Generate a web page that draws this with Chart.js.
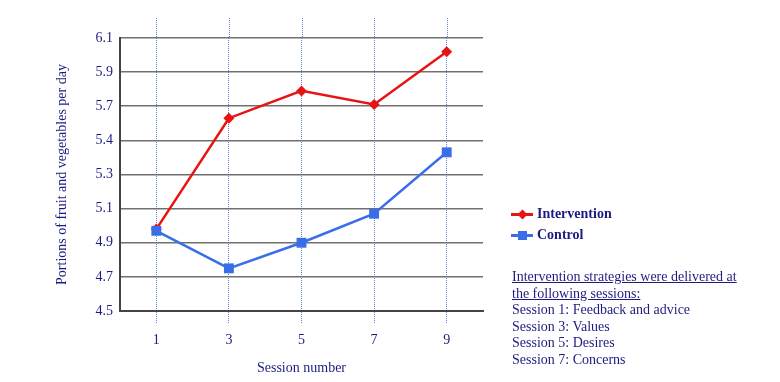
<!DOCTYPE html>
<html>
<head>
<meta charset="utf-8">
<script src="https://cdn.jsdelivr.net/npm/chart.js@4/dist/chart.umd.min.js"></script>
<style>
body { margin: 0; background: #fff; }
#caja { position: relative; width: 780px; height: 382px; }
#grafica { position: absolute; left: 0; top: 0; }
.txt { position: absolute; font-family: "Liberation Serif", "Times New Roman", serif; font-size: 14px; color: #1c1c80; line-height: 16.6px; white-space: nowrap; }
.negrita { font-weight: bold; }
.linea { position: absolute; width: 22px; height: 2.5px; }
.rombo { position: absolute; width: 7px; height: 7px; background: #e81414; transform: rotate(45deg); }
.cuadro { position: absolute; width: 9px; height: 9px; background: #3a6ee8; }
</style>
</head>
<body>
<div id="caja">
  <canvas id="grafica" width="780" height="382"></canvas>

  <!-- leyenda -->
  <div class="linea" style="left:511px; top:213px; background:#e81414"></div>
  <div class="rombo" style="left:518.5px; top:210.5px"></div>
  <div class="txt negrita" style="left:537px; top:206px">Intervention</div>
  <div class="linea" style="left:511px; top:234px; background:#3a6ee8"></div>
  <div class="cuadro" style="left:517.5px; top:230.5px"></div>
  <div class="txt negrita" style="left:537px; top:227px">Control</div>

  <!-- nota -->
  <div class="txt" style="left:512px; top:269px">
    <span style="text-decoration:underline">Intervention strategies were delivered at<br>the following sessions:</span><br>
    Session 1: Feedback and advice<br>
    Session 3: Values<br>
    Session 5: Desires<br>
    Session 7: Concerns
  </div>
</div>
<script>
var sesiones = ["1", "3", "5", "7", "9"];
var intervencion = [4.98, 5.63, 5.79, 5.71, 6.02];
var control = [4.97, 4.75, 4.90, 5.07, 5.43];
var valoresEje = [4.5, 4.7, 4.9, 5.1, 5.3, 5.5, 5.7, 5.9, 6.1];
var etiquetasEje = ["4.5", "4.7", "4.9", "5.1", "5.3", "5.4", "5.7", "5.9", "6.1"];

var azulPunteado = "rgba(70,105,210,0.85)";
var colorTexto = "#1c1c80";
var fuente = "'Liberation Serif', 'Times New Roman', serif";

// alarga las lineas punteadas por encima del area del grafico
var lineasArriba = {
    id: "lineasArriba",
    beforeDatasetsDraw: function (chart) {
        var ctx = chart.ctx;
        var x = chart.scales.x;
        var arriba = chart.chartArea.top;
        ctx.save();
        ctx.strokeStyle = azulPunteado;
        ctx.lineWidth = 1;
        ctx.setLineDash([1, 1]);
        for (var i = 0; i < sesiones.length; i++) {
            var px = Math.round(x.getPixelForTick(i)) + 0.5;
            ctx.beginPath();
            ctx.moveTo(px, arriba - 20);
            ctx.lineTo(px, arriba);
            ctx.stroke();
        }
        ctx.restore();
    }
};

var grafica = new Chart(document.getElementById("grafica"), {
    type: "line",
    data: {
        labels: sesiones,
        datasets: [{
            label: "Control",
            data: control,
            borderColor: "#3a6ee8",
            backgroundColor: "#3a6ee8",
            borderWidth: 2.5,
            pointStyle: "rect",
            pointRadius: 7,
            pointBorderWidth: 0
        }, {
            label: "Intervention",
            data: intervencion,
            borderColor: "#e81414",
            backgroundColor: "#e81414",
            borderWidth: 2.5,
            pointStyle: "rectRot",
            pointRadius: 5.5,
            pointBorderWidth: 0
        }]
    },
    options: {
        responsive: false,
        animation: false,
        devicePixelRatio: 1,
        layout: { padding: { left: 50, right: 297, top: 38, bottom: 5 } },
        plugins: {
            legend: { display: false },
            tooltip: { enabled: false }
        },
        scales: {
            x: {
                offset: true,
                afterFit: function (s) { s.height = 66; },
                grid: {
                    color: azulPunteado,
                    lineWidth: 1,
                    drawTicks: true,
                    tickLength: 12,
                    tickColor: azulPunteado,
                    tickBorderDash: [1, 1]
                },
                border: { display: true, color: "#444", width: 2, dash: [1, 1] },
                ticks: { color: colorTexto, padding: 9, font: { family: fuente, size: 14 } },
                title: {
                    display: true,
                    text: "Session number",
                    color: colorTexto,
                    padding: { top: 0, bottom: 0 },
                    font: { family: fuente, size: 14 }
                }
            },
            y: {
                min: 4.5,
                max: 6.1,
                afterFit: function (s) { s.width = 70; },
                afterBuildTicks: function (s) {
                    s.ticks = valoresEje.map(function (v) { return { value: v }; });
                },
                grid: { color: "#707070", lineWidth: 1.5, drawTicks: false },
                border: { display: true, color: "#444", width: 2 },
                ticks: {
                    color: colorTexto,
                    padding: 7,
                    font: { family: fuente, size: 14 },
                    callback: function (v, i) { return etiquetasEje[i]; }
                },
                title: {
                    display: true,
                    text: "Portions of fruit and vegetables per day",
                    color: colorTexto,
                    padding: { top: 4, bottom: 0 },
                    font: { family: fuente, size: 14 }
                }
            }
        }
    },
    plugins: [lineasArriba]
});
</script>
</body>
</html>
